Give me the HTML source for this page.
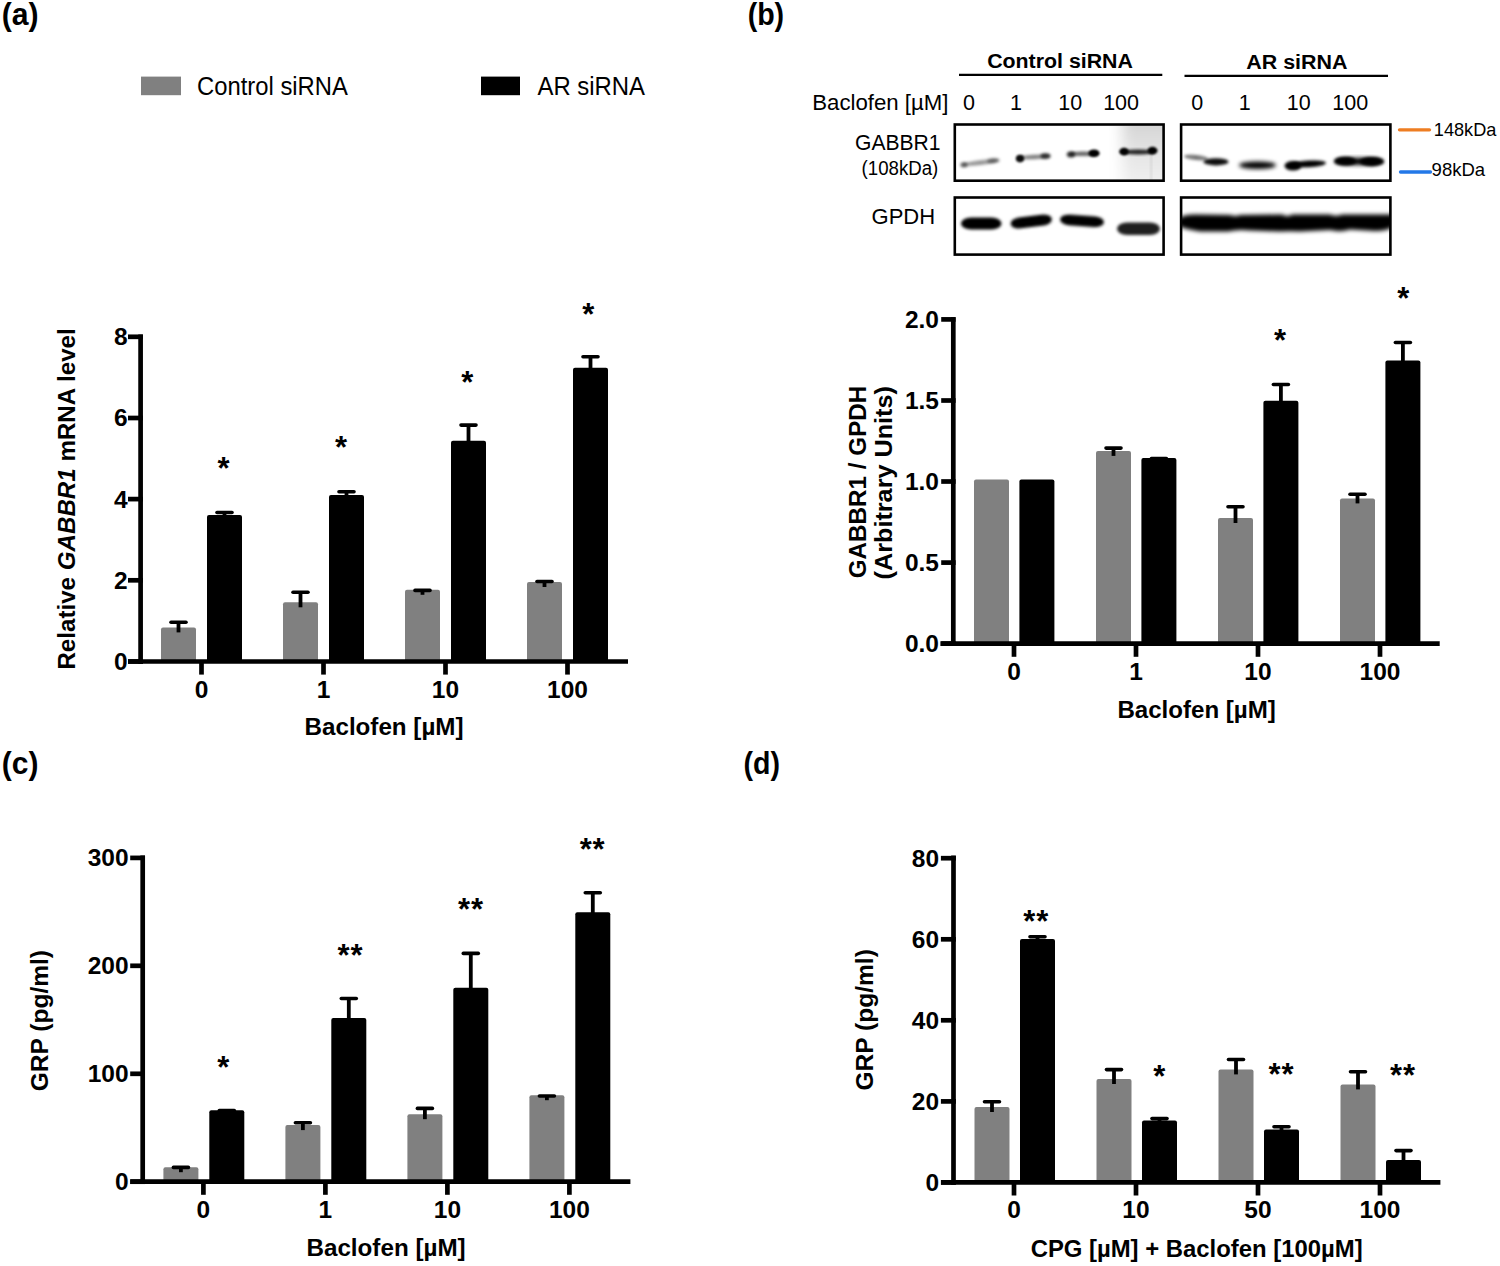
<!DOCTYPE html>
<html><head><meta charset="utf-8"><title>Figure</title>
<style>
html,body{margin:0;padding:0;background:#fff;}
body{width:1500px;height:1266px;overflow:hidden;}
svg{display:block;font-family:"Liberation Sans", sans-serif;}
text{fill:#000;}
</style></head>
<body>
<svg width="1500" height="1266" viewBox="0 0 1500 1266">
<defs>
<filter id="b12" x="-50%" y="-50%" width="200%" height="200%"><feGaussianBlur stdDeviation="1.2"/></filter>
<filter id="b15" x="-50%" y="-50%" width="200%" height="200%"><feGaussianBlur stdDeviation="1.5"/></filter>
<filter id="b16" x="-50%" y="-50%" width="200%" height="200%"><feGaussianBlur stdDeviation="1.6"/></filter>
<filter id="b20" x="-50%" y="-50%" width="200%" height="200%"><feGaussianBlur stdDeviation="2.0"/></filter>
<filter id="b24" x="-50%" y="-50%" width="200%" height="200%"><feGaussianBlur stdDeviation="2.4"/></filter>
<filter id="b26" x="-50%" y="-50%" width="200%" height="200%"><feGaussianBlur stdDeviation="2.6"/></filter>
<filter id="b8" x="-50%" y="-50%" width="200%" height="200%"><feGaussianBlur stdDeviation="0.8"/></filter>
<filter id="b13" x="-50%" y="-50%" width="200%" height="200%"><feGaussianBlur stdDeviation="1.3"/></filter>
<filter id="b14" x="-50%" y="-50%" width="200%" height="200%"><feGaussianBlur stdDeviation="1.4"/></filter>
<filter id="b17" x="-50%" y="-50%" width="200%" height="200%"><feGaussianBlur stdDeviation="1.7"/></filter>
<filter id="b18" x="-50%" y="-50%" width="200%" height="200%"><feGaussianBlur stdDeviation="1.8"/></filter>
<filter id="b19" x="-50%" y="-50%" width="200%" height="200%"><feGaussianBlur stdDeviation="1.9"/></filter>
<filter id="b40" x="-50%" y="-50%" width="200%" height="200%"><feGaussianBlur stdDeviation="4"/></filter>
<linearGradient id="haze" x1="0" y1="0" x2="0" y2="1"><stop offset="0" stop-color="#cfcfcf"/><stop offset="0.55" stop-color="#e6e6e6"/><stop offset="1" stop-color="#f2f2f2"/></linearGradient>
<filter id="b70" x="-50%" y="-50%" width="200%" height="200%"><feGaussianBlur stdDeviation="7"/></filter>
<filter id="b60" x="-50%" y="-50%" width="200%" height="200%"><feGaussianBlur stdDeviation="6"/></filter>
<clipPath id="c1"><rect x="955" y="124.5" width="208.5" height="56"/></clipPath>
<clipPath id="c2"><rect x="955" y="197.5" width="208.5" height="57"/></clipPath>
<clipPath id="c3"><rect x="1181" y="124.5" width="209.5" height="56"/></clipPath>
<clipPath id="c4"><rect x="1181" y="197.5" width="209.5" height="57"/></clipPath>
</defs>
<rect width="1500" height="1266" fill="#fff"/>
<text x="1.77" y="25.27" font-size="31" font-weight="bold" textLength="36.86" lengthAdjust="spacingAndGlyphs">(a)</text>
<text x="747.64" y="25.27" font-size="31" font-weight="bold" textLength="36.50" lengthAdjust="spacingAndGlyphs">(b)</text>
<text x="1.78" y="774.08" font-size="31" font-weight="bold" textLength="36.64" lengthAdjust="spacingAndGlyphs">(c)</text>
<text x="743.44" y="774.08" font-size="31" font-weight="bold" textLength="36.50" lengthAdjust="spacingAndGlyphs">(d)</text>
<rect x="141.0" y="76.6" width="40.0" height="18.6" fill="#808080"/>
<text x="197.11" y="95.00" font-size="25" font-weight="bold" textLength="150.75" lengthAdjust="spacingAndGlyphs"><tspan font-weight="normal">Control siRNA</tspan></text>
<rect x="481.0" y="76.6" width="39.0" height="18.6" fill="#000000"/>
<text x="537.50" y="95.00" font-size="25" font-weight="bold" textLength="107.57" lengthAdjust="spacingAndGlyphs"><tspan font-weight="normal">AR siRNA</tspan></text>
<rect x="161.0" y="627.4" width="35.0" height="34.1" fill="#808080" rx="2"/>
<rect x="207.0" y="515.0" width="35.0" height="146.5" fill="#000000" rx="2"/>
<rect x="283.0" y="602.3" width="35.0" height="59.2" fill="#808080" rx="2"/>
<rect x="329.0" y="495.0" width="35.0" height="166.5" fill="#000000" rx="2"/>
<rect x="405.0" y="589.8" width="35.0" height="71.7" fill="#808080" rx="2"/>
<rect x="451.0" y="440.7" width="35.0" height="220.8" fill="#000000" rx="2"/>
<rect x="527.0" y="582.0" width="35.0" height="79.5" fill="#808080" rx="2"/>
<rect x="573.0" y="367.7" width="35.0" height="293.8" fill="#000000" rx="2"/>
<line x1="178.5" y1="622.3" x2="178.5" y2="632.4" stroke="#000" stroke-width="3.8" stroke-linecap="butt"/>
<line x1="171.0" y1="622.3" x2="186.0" y2="622.3" stroke="#000" stroke-width="3.6" stroke-linecap="round"/>
<line x1="224.5" y1="512.5" x2="224.5" y2="520.0" stroke="#000" stroke-width="3.8" stroke-linecap="butt"/>
<line x1="217.0" y1="512.5" x2="232.0" y2="512.5" stroke="#000" stroke-width="3.6" stroke-linecap="round"/>
<line x1="300.5" y1="592.2" x2="300.5" y2="607.3" stroke="#000" stroke-width="3.8" stroke-linecap="butt"/>
<line x1="293.0" y1="592.2" x2="308.0" y2="592.2" stroke="#000" stroke-width="3.6" stroke-linecap="round"/>
<line x1="346.5" y1="491.8" x2="346.5" y2="500.0" stroke="#000" stroke-width="3.8" stroke-linecap="butt"/>
<line x1="339.0" y1="491.8" x2="354.0" y2="491.8" stroke="#000" stroke-width="3.6" stroke-linecap="round"/>
<line x1="422.5" y1="590.4" x2="422.5" y2="594.8" stroke="#000" stroke-width="3.8" stroke-linecap="butt"/>
<line x1="415.0" y1="590.4" x2="430.0" y2="590.4" stroke="#000" stroke-width="3.6" stroke-linecap="round"/>
<line x1="468.5" y1="425.1" x2="468.5" y2="445.7" stroke="#000" stroke-width="3.8" stroke-linecap="butt"/>
<line x1="461.0" y1="425.1" x2="476.0" y2="425.1" stroke="#000" stroke-width="3.6" stroke-linecap="round"/>
<line x1="544.5" y1="581.5" x2="544.5" y2="587.0" stroke="#000" stroke-width="3.8" stroke-linecap="butt"/>
<line x1="537.0" y1="581.5" x2="552.0" y2="581.5" stroke="#000" stroke-width="3.6" stroke-linecap="round"/>
<line x1="590.5" y1="356.8" x2="590.5" y2="372.7" stroke="#000" stroke-width="3.8" stroke-linecap="butt"/>
<line x1="583.0" y1="356.8" x2="598.0" y2="356.8" stroke="#000" stroke-width="3.6" stroke-linecap="round"/>
<line x1="140.6" y1="334.5" x2="140.6" y2="663.9" stroke="#000" stroke-width="4.7" stroke-linecap="butt"/>
<line x1="128.0" y1="661.5" x2="142.9" y2="661.5" stroke="#000" stroke-width="4.7" stroke-linecap="butt"/>
<line x1="128.0" y1="580.3" x2="142.9" y2="580.3" stroke="#000" stroke-width="4.7" stroke-linecap="butt"/>
<line x1="128.0" y1="499.1" x2="142.9" y2="499.1" stroke="#000" stroke-width="4.7" stroke-linecap="butt"/>
<line x1="128.0" y1="418.0" x2="142.9" y2="418.0" stroke="#000" stroke-width="4.7" stroke-linecap="butt"/>
<line x1="128.0" y1="336.8" x2="142.9" y2="336.8" stroke="#000" stroke-width="4.7" stroke-linecap="butt"/>
<text x="127.6" y="670.0" font-size="24.5" font-weight="bold" text-anchor="end">0</text>
<text x="127.6" y="588.8" font-size="24.5" font-weight="bold" text-anchor="end">2</text>
<text x="127.6" y="507.6" font-size="24.5" font-weight="bold" text-anchor="end">4</text>
<text x="127.6" y="426.4" font-size="24.5" font-weight="bold" text-anchor="end">6</text>
<text x="127.6" y="345.2" font-size="24.5" font-weight="bold" text-anchor="end">8</text>
<line x1="128.0" y1="661.5" x2="628.0" y2="661.5" stroke="#000" stroke-width="4.7" stroke-linecap="butt"/>
<line x1="201.5" y1="661.5" x2="201.5" y2="674.6" stroke="#000" stroke-width="4.7" stroke-linecap="butt"/>
<text x="201.5" y="697.6" font-size="24.5" font-weight="bold" text-anchor="middle">0</text>
<line x1="323.5" y1="661.5" x2="323.5" y2="674.6" stroke="#000" stroke-width="4.7" stroke-linecap="butt"/>
<text x="323.5" y="697.6" font-size="24.5" font-weight="bold" text-anchor="middle">1</text>
<line x1="445.5" y1="661.5" x2="445.5" y2="674.6" stroke="#000" stroke-width="4.7" stroke-linecap="butt"/>
<text x="445.5" y="697.6" font-size="24.5" font-weight="bold" text-anchor="middle">10</text>
<line x1="567.5" y1="661.5" x2="567.5" y2="674.6" stroke="#000" stroke-width="4.7" stroke-linecap="butt"/>
<text x="567.5" y="697.6" font-size="24.5" font-weight="bold" text-anchor="middle">100</text>
<text x="223.6" y="478.8" font-size="31" font-weight="bold" text-anchor="middle">*</text>
<text x="341.0" y="458.0" font-size="31" font-weight="bold" text-anchor="middle">*</text>
<text x="467.3" y="393.0" font-size="31" font-weight="bold" text-anchor="middle">*</text>
<text x="588.3" y="325.3" font-size="31" font-weight="bold" text-anchor="middle">*</text>
<text x="304.53" y="734.60" font-size="24" font-weight="bold" textLength="159.03" lengthAdjust="spacingAndGlyphs">Baclofen [µM]</text>
<text transform="translate(74.76,669.57) rotate(-90)" font-size="24.5" font-weight="bold" textLength="341.29" lengthAdjust="spacingAndGlyphs">Relative <tspan font-style="italic">GABBR1</tspan> mRNA level</text>
<rect x="974.0" y="479.6" width="35.0" height="164.0" fill="#808080" rx="2"/>
<rect x="1019.4" y="479.6" width="35.0" height="164.0" fill="#000000" rx="2"/>
<rect x="1096.0" y="450.9" width="35.0" height="192.7" fill="#808080" rx="2"/>
<rect x="1141.4" y="458.0" width="35.0" height="185.6" fill="#000000" rx="2"/>
<rect x="1218.0" y="518.0" width="35.0" height="125.6" fill="#808080" rx="2"/>
<rect x="1263.4" y="400.7" width="35.0" height="242.9" fill="#000000" rx="2"/>
<rect x="1340.0" y="498.4" width="35.0" height="145.2" fill="#808080" rx="2"/>
<rect x="1385.4" y="360.4" width="35.0" height="283.2" fill="#000000" rx="2"/>
<line x1="1113.5" y1="448.1" x2="1113.5" y2="455.9" stroke="#000" stroke-width="3.8" stroke-linecap="butt"/>
<line x1="1106.0" y1="448.1" x2="1121.0" y2="448.1" stroke="#000" stroke-width="3.6" stroke-linecap="round"/>
<line x1="1158.9" y1="458.6" x2="1158.9" y2="463.0" stroke="#000" stroke-width="3.8" stroke-linecap="butt"/>
<line x1="1151.4" y1="458.6" x2="1166.4" y2="458.6" stroke="#000" stroke-width="3.6" stroke-linecap="round"/>
<line x1="1235.5" y1="506.7" x2="1235.5" y2="523.0" stroke="#000" stroke-width="3.8" stroke-linecap="butt"/>
<line x1="1228.0" y1="506.7" x2="1243.0" y2="506.7" stroke="#000" stroke-width="3.6" stroke-linecap="round"/>
<line x1="1280.9" y1="384.5" x2="1280.9" y2="405.7" stroke="#000" stroke-width="3.8" stroke-linecap="butt"/>
<line x1="1273.4" y1="384.5" x2="1288.4" y2="384.5" stroke="#000" stroke-width="3.6" stroke-linecap="round"/>
<line x1="1357.5" y1="494.2" x2="1357.5" y2="503.4" stroke="#000" stroke-width="3.8" stroke-linecap="butt"/>
<line x1="1350.0" y1="494.2" x2="1365.0" y2="494.2" stroke="#000" stroke-width="3.6" stroke-linecap="round"/>
<line x1="1402.9" y1="342.5" x2="1402.9" y2="365.4" stroke="#000" stroke-width="3.8" stroke-linecap="butt"/>
<line x1="1395.4" y1="342.5" x2="1410.4" y2="342.5" stroke="#000" stroke-width="3.6" stroke-linecap="round"/>
<line x1="953.3" y1="317.3" x2="953.3" y2="646.0" stroke="#000" stroke-width="4.7" stroke-linecap="butt"/>
<line x1="941.2" y1="643.6" x2="955.6" y2="643.6" stroke="#000" stroke-width="4.7" stroke-linecap="butt"/>
<line x1="941.2" y1="562.6" x2="955.6" y2="562.6" stroke="#000" stroke-width="4.7" stroke-linecap="butt"/>
<line x1="941.2" y1="481.5" x2="955.6" y2="481.5" stroke="#000" stroke-width="4.7" stroke-linecap="butt"/>
<line x1="941.2" y1="400.5" x2="955.6" y2="400.5" stroke="#000" stroke-width="4.7" stroke-linecap="butt"/>
<line x1="941.2" y1="319.4" x2="955.6" y2="319.4" stroke="#000" stroke-width="4.7" stroke-linecap="butt"/>
<text x="939.0" y="652.1" font-size="24.5" font-weight="bold" text-anchor="end">0.0</text>
<text x="939.0" y="571.0" font-size="24.5" font-weight="bold" text-anchor="end">0.5</text>
<text x="939.0" y="490.0" font-size="24.5" font-weight="bold" text-anchor="end">1.0</text>
<text x="939.0" y="408.9" font-size="24.5" font-weight="bold" text-anchor="end">1.5</text>
<text x="939.0" y="327.9" font-size="24.5" font-weight="bold" text-anchor="end">2.0</text>
<line x1="940.4" y1="643.6" x2="1439.7" y2="643.6" stroke="#000" stroke-width="4.7" stroke-linecap="butt"/>
<line x1="1014.0" y1="643.6" x2="1014.0" y2="656.8" stroke="#000" stroke-width="4.7" stroke-linecap="butt"/>
<text x="1014.0" y="679.6" font-size="24.5" font-weight="bold" text-anchor="middle">0</text>
<line x1="1136.0" y1="643.6" x2="1136.0" y2="656.8" stroke="#000" stroke-width="4.7" stroke-linecap="butt"/>
<text x="1136.0" y="679.6" font-size="24.5" font-weight="bold" text-anchor="middle">1</text>
<line x1="1258.0" y1="643.6" x2="1258.0" y2="656.8" stroke="#000" stroke-width="4.7" stroke-linecap="butt"/>
<text x="1258.0" y="679.6" font-size="24.5" font-weight="bold" text-anchor="middle">10</text>
<line x1="1380.0" y1="643.6" x2="1380.0" y2="656.8" stroke="#000" stroke-width="4.7" stroke-linecap="butt"/>
<text x="1380.0" y="679.6" font-size="24.5" font-weight="bold" text-anchor="middle">100</text>
<text x="1280.0" y="350.5" font-size="31" font-weight="bold" text-anchor="middle">*</text>
<text x="1403.3" y="308.5" font-size="31" font-weight="bold" text-anchor="middle">*</text>
<text x="1117.43" y="718.10" font-size="24" font-weight="bold" textLength="158.42" lengthAdjust="spacingAndGlyphs">Baclofen [µM]</text>
<text transform="translate(866.46,578.27) rotate(-90)" font-size="24.5" font-weight="bold" textLength="192.62" lengthAdjust="spacingAndGlyphs">GABBR1 / GPDH</text>
<text transform="translate(892.26,579.40) rotate(-90)" font-size="24.5" font-weight="bold" textLength="193.30" lengthAdjust="spacingAndGlyphs">(Arbitrary Units)</text>
<text x="987.15" y="68.00" font-size="20" font-weight="bold" textLength="145.80" lengthAdjust="spacingAndGlyphs">Control siRNA</text>
<line x1="959.0" y1="74.9" x2="1162.3" y2="74.9" stroke="#000" stroke-width="2.3" stroke-linecap="butt"/>
<text x="1246.26" y="69.00" font-size="20" font-weight="bold" textLength="101.28" lengthAdjust="spacingAndGlyphs">AR siRNA</text>
<line x1="1184.5" y1="75.9" x2="1388.0" y2="75.9" stroke="#000" stroke-width="2.3" stroke-linecap="butt"/>
<text x="812.22" y="109.70" font-size="22" font-weight="bold" textLength="136.32" lengthAdjust="spacingAndGlyphs"><tspan font-weight="normal">Baclofen [µM]</tspan></text>
<text x="969.1" y="109.5" font-size="21.5" font-weight="normal" text-anchor="middle">0</text>
<text x="1016.0" y="109.5" font-size="21.5" font-weight="normal" text-anchor="middle">1</text>
<text x="1070.3" y="109.5" font-size="21.5" font-weight="normal" text-anchor="middle">10</text>
<text x="1121.1" y="109.5" font-size="21.5" font-weight="normal" text-anchor="middle">100</text>
<text x="1197.2" y="109.5" font-size="21.5" font-weight="normal" text-anchor="middle">0</text>
<text x="1244.8" y="109.5" font-size="21.5" font-weight="normal" text-anchor="middle">1</text>
<text x="1298.8" y="109.5" font-size="21.5" font-weight="normal" text-anchor="middle">10</text>
<text x="1350.2" y="109.5" font-size="21.5" font-weight="normal" text-anchor="middle">100</text>
<text x="855.05" y="150.10" font-size="22" font-weight="bold" textLength="85.50" lengthAdjust="spacingAndGlyphs"><tspan font-weight="normal">GABBR1</tspan></text>
<text x="861.58" y="175.00" font-size="20" font-weight="bold" textLength="76.75" lengthAdjust="spacingAndGlyphs"><tspan font-weight="normal">(108kDa)</tspan></text>
<text x="871.60" y="223.80" font-size="22" font-weight="bold" textLength="63.54" lengthAdjust="spacingAndGlyphs"><tspan font-weight="normal">GPDH</tspan></text>
<line x1="1399.5" y1="129.8" x2="1429.5" y2="129.8" stroke="#EE7D22" stroke-width="3.3" stroke-linecap="round"/>
<text x="1433.84" y="136.40" font-size="19" font-weight="bold" textLength="62.55" lengthAdjust="spacingAndGlyphs"><tspan font-weight="normal">148kDa</tspan></text>
<line x1="1400.5" y1="172.0" x2="1430.5" y2="172.0" stroke="#2378E8" stroke-width="3.3" stroke-linecap="round"/>
<text x="1431.57" y="176.40" font-size="19" font-weight="bold" textLength="53.60" lengthAdjust="spacingAndGlyphs"><tspan font-weight="normal">98kDa</tspan></text>
<g clip-path="url(#c1)">
<rect x="1122" y="112" width="60" height="80" fill="url(#haze)" filter="url(#b70)"/>
<rect x="1150.5" y="152" width="1.6" height="30" fill="#000" fill-opacity="0.10" filter="url(#b8)"/>
<ellipse cx="980.5" cy="162.6" rx="19.5" ry="2.4" fill="#000" fill-opacity="0.42" filter="url(#b18)" transform="rotate(-7 980.5 162.6)"/>
<ellipse cx="964.0" cy="164.8" rx="3.6" ry="2.6" fill="#000" fill-opacity="0.55" filter="url(#b14)"/>
<ellipse cx="993.0" cy="160.6" rx="6.0" ry="2.4" fill="#000" fill-opacity="0.45" filter="url(#b16)" transform="rotate(-5 993.0 160.6)"/>
<ellipse cx="1034.0" cy="157.0" rx="16.0" ry="2.2" fill="#000" fill-opacity="0.5" filter="url(#b18)" transform="rotate(-3 1034.0 157.0)"/>
<ellipse cx="1020.0" cy="158.6" rx="4.2" ry="3.8" fill="#000" fill-opacity="0.95" filter="url(#b13)"/>
<ellipse cx="1045.5" cy="156.0" rx="5.0" ry="2.8" fill="#000" fill-opacity="0.75" filter="url(#b15)"/>
<ellipse cx="1083.0" cy="153.8" rx="14.0" ry="2.3" fill="#000" fill-opacity="0.6" filter="url(#b18)"/>
<ellipse cx="1071.0" cy="154.4" rx="4.2" ry="3.0" fill="#000" fill-opacity="0.8" filter="url(#b14)"/>
<ellipse cx="1094.0" cy="153.2" rx="5.6" ry="3.8" fill="#000" fill-opacity="1.0" filter="url(#b13)"/>
<ellipse cx="1138.0" cy="152.0" rx="17.0" ry="2.4" fill="#000" fill-opacity="0.85" filter="url(#b16)"/>
<ellipse cx="1124.0" cy="151.6" rx="4.8" ry="3.8" fill="#000" fill-opacity="1.0" filter="url(#b13)"/>
<ellipse cx="1152.5" cy="150.6" rx="5.0" ry="3.8" fill="#000" fill-opacity="1.0" filter="url(#b13)"/>
</g>
<g clip-path="url(#c2)">
<rect x="961.0" y="217.6" width="40.5" height="12.0" rx="10.2" ry="6.0" fill="#000" fill-opacity="1.0" filter="url(#b16)"/>
<rect x="1010.5" y="216.0" width="41.5" height="11.0" rx="9.3" ry="5.5" fill="#000" fill-opacity="1.0" filter="url(#b16)" transform="rotate(-7 1031.2 221.5)"/>
<rect x="1060.0" y="215.4" width="44.0" height="10.8" rx="9.2" ry="5.4" fill="#000" fill-opacity="1.0" filter="url(#b16)" transform="rotate(4 1082.0 220.8)"/>
<rect x="1117.0" y="222.5" width="43.0" height="12.5" rx="10.2" ry="6.2" fill="#000" fill-opacity="0.88" filter="url(#b18)"/>
</g>
<g clip-path="url(#c3)">
<ellipse cx="1196.0" cy="157.5" rx="12.0" ry="2.5" fill="#000" fill-opacity="0.55" filter="url(#b18)" transform="rotate(6 1196.0 157.5)"/>
<ellipse cx="1216.0" cy="161.8" rx="12.5" ry="3.6" fill="#000" fill-opacity="0.95" filter="url(#b17)"/>
<ellipse cx="1257.5" cy="165.2" rx="18.5" ry="3.8" fill="#000" fill-opacity="1.0" filter="url(#b19)"/>
<ellipse cx="1309.0" cy="163.8" rx="17.0" ry="3.4" fill="#000" fill-opacity="1.0" filter="url(#b18)" transform="rotate(-3 1309.0 163.8)"/>
<ellipse cx="1293.0" cy="165.8" rx="8.5" ry="4.8" fill="#000" fill-opacity="1.0" filter="url(#b16)"/>
<ellipse cx="1345.0" cy="161.2" rx="11.0" ry="4.4" fill="#000" fill-opacity="1.0" filter="url(#b18)"/>
<ellipse cx="1372.0" cy="161.6" rx="12.0" ry="4.6" fill="#000" fill-opacity="1.0" filter="url(#b18)"/>
<ellipse cx="1359.0" cy="161.4" rx="24.0" ry="3.6" fill="#000" fill-opacity="1.0" filter="url(#b19)"/>
</g>
<g clip-path="url(#c4)">
<path d="M1178,219 Q1182,214.5 1195,214.5 L1230,215 Q1236,217 1240,215 L1282,214.5 Q1288,217.5 1292,214.5 L1330,214.5 Q1336,217 1342,214.5 L1395,214.5 L1395,226 Q1388,231 1375,231 L1350,229.5 Q1340,232.5 1330,230 L1300,231.5 Q1290,231 1280,231.5 L1250,230.5 Q1238,229 1228,231.5 L1200,231.5 Q1185,229 1178,226 Z" fill="#000" fill-opacity="1.0" filter="url(#b20)"/>
</g>
<rect x="954.8" y="124.5" width="208.8" height="56.2" fill="none" stroke="#000" stroke-width="2.6"/>
<rect x="954.8" y="197.5" width="208.8" height="57.1" fill="none" stroke="#000" stroke-width="2.6"/>
<rect x="1181.1" y="124.5" width="209.3" height="56.2" fill="none" stroke="#000" stroke-width="2.6"/>
<rect x="1181.1" y="197.5" width="209.3" height="57.1" fill="none" stroke="#000" stroke-width="2.6"/>
<rect x="163.4" y="1167.2" width="35.0" height="14.5" fill="#808080" rx="2"/>
<rect x="209.3" y="1110.3" width="35.0" height="71.4" fill="#000000" rx="2"/>
<rect x="285.4" y="1125.1" width="35.0" height="56.6" fill="#808080" rx="2"/>
<rect x="331.3" y="1018.0" width="35.0" height="163.7" fill="#000000" rx="2"/>
<rect x="407.4" y="1114.2" width="35.0" height="67.5" fill="#808080" rx="2"/>
<rect x="453.3" y="987.8" width="35.0" height="193.9" fill="#000000" rx="2"/>
<rect x="529.4" y="1095.2" width="35.0" height="86.5" fill="#808080" rx="2"/>
<rect x="575.3" y="912.3" width="35.0" height="269.4" fill="#000000" rx="2"/>
<line x1="180.9" y1="1167.4" x2="180.9" y2="1172.2" stroke="#000" stroke-width="3.8" stroke-linecap="butt"/>
<line x1="173.4" y1="1167.4" x2="188.4" y2="1167.4" stroke="#000" stroke-width="3.6" stroke-linecap="round"/>
<line x1="226.8" y1="1110.5" x2="226.8" y2="1115.3" stroke="#000" stroke-width="3.8" stroke-linecap="butt"/>
<line x1="219.3" y1="1110.5" x2="234.3" y2="1110.5" stroke="#000" stroke-width="3.6" stroke-linecap="round"/>
<line x1="302.9" y1="1122.8" x2="302.9" y2="1130.1" stroke="#000" stroke-width="3.8" stroke-linecap="butt"/>
<line x1="295.4" y1="1122.8" x2="310.4" y2="1122.8" stroke="#000" stroke-width="3.6" stroke-linecap="round"/>
<line x1="348.8" y1="998.5" x2="348.8" y2="1023.0" stroke="#000" stroke-width="3.8" stroke-linecap="butt"/>
<line x1="341.3" y1="998.5" x2="356.3" y2="998.5" stroke="#000" stroke-width="3.6" stroke-linecap="round"/>
<line x1="424.9" y1="1108.4" x2="424.9" y2="1119.2" stroke="#000" stroke-width="3.8" stroke-linecap="butt"/>
<line x1="417.4" y1="1108.4" x2="432.4" y2="1108.4" stroke="#000" stroke-width="3.6" stroke-linecap="round"/>
<line x1="470.8" y1="953.4" x2="470.8" y2="992.8" stroke="#000" stroke-width="3.8" stroke-linecap="butt"/>
<line x1="463.3" y1="953.4" x2="478.3" y2="953.4" stroke="#000" stroke-width="3.6" stroke-linecap="round"/>
<line x1="546.9" y1="1096.0" x2="546.9" y2="1100.2" stroke="#000" stroke-width="3.8" stroke-linecap="butt"/>
<line x1="539.4" y1="1096.0" x2="554.4" y2="1096.0" stroke="#000" stroke-width="3.6" stroke-linecap="round"/>
<line x1="592.8" y1="892.8" x2="592.8" y2="917.3" stroke="#000" stroke-width="3.8" stroke-linecap="butt"/>
<line x1="585.3" y1="892.8" x2="600.3" y2="892.8" stroke="#000" stroke-width="3.6" stroke-linecap="round"/>
<line x1="142.7" y1="855.5" x2="142.7" y2="1184.0" stroke="#000" stroke-width="4.7" stroke-linecap="butt"/>
<line x1="130.2" y1="1181.7" x2="145.0" y2="1181.7" stroke="#000" stroke-width="4.7" stroke-linecap="butt"/>
<line x1="130.2" y1="1073.8" x2="145.0" y2="1073.8" stroke="#000" stroke-width="4.7" stroke-linecap="butt"/>
<line x1="130.2" y1="965.8" x2="145.0" y2="965.8" stroke="#000" stroke-width="4.7" stroke-linecap="butt"/>
<line x1="130.2" y1="857.9" x2="145.0" y2="857.9" stroke="#000" stroke-width="4.7" stroke-linecap="butt"/>
<text x="128.6" y="1190.2" font-size="24.5" font-weight="bold" text-anchor="end">0</text>
<text x="128.6" y="1082.2" font-size="24.5" font-weight="bold" text-anchor="end">100</text>
<text x="128.6" y="974.3" font-size="24.5" font-weight="bold" text-anchor="end">200</text>
<text x="128.6" y="866.3" font-size="24.5" font-weight="bold" text-anchor="end">300</text>
<line x1="130.3" y1="1181.7" x2="630.4" y2="1181.7" stroke="#000" stroke-width="4.7" stroke-linecap="butt"/>
<line x1="203.4" y1="1181.7" x2="203.4" y2="1194.8" stroke="#000" stroke-width="4.7" stroke-linecap="butt"/>
<text x="203.4" y="1217.6" font-size="24.5" font-weight="bold" text-anchor="middle">0</text>
<line x1="325.4" y1="1181.7" x2="325.4" y2="1194.8" stroke="#000" stroke-width="4.7" stroke-linecap="butt"/>
<text x="325.4" y="1217.6" font-size="24.5" font-weight="bold" text-anchor="middle">1</text>
<line x1="447.4" y1="1181.7" x2="447.4" y2="1194.8" stroke="#000" stroke-width="4.7" stroke-linecap="butt"/>
<text x="447.4" y="1217.6" font-size="24.5" font-weight="bold" text-anchor="middle">10</text>
<line x1="569.4" y1="1181.7" x2="569.4" y2="1194.8" stroke="#000" stroke-width="4.7" stroke-linecap="butt"/>
<text x="569.4" y="1217.6" font-size="24.5" font-weight="bold" text-anchor="middle">100</text>
<text x="223.4" y="1078.3" font-size="31" font-weight="bold" text-anchor="middle">*</text>
<text x="350.4" y="966.3" font-size="31" font-weight="bold" text-anchor="middle" letter-spacing="0.8">**</text>
<text x="470.9" y="920.2" font-size="31" font-weight="bold" text-anchor="middle" letter-spacing="0.8">**</text>
<text x="592.6" y="860.2" font-size="31" font-weight="bold" text-anchor="middle" letter-spacing="0.8">**</text>
<text x="306.43" y="1255.80" font-size="24" font-weight="bold" textLength="159.24" lengthAdjust="spacingAndGlyphs">Baclofen [µM]</text>
<text transform="translate(48.46,1091.28) rotate(-90)" font-size="24.5" font-weight="bold" textLength="141.33" lengthAdjust="spacingAndGlyphs">GRP (pg/ml)</text>
<rect x="974.5" y="1107.0" width="35.0" height="75.4" fill="#808080" rx="2"/>
<rect x="1020.0" y="938.9" width="35.0" height="243.5" fill="#000000" rx="2"/>
<rect x="1096.5" y="1079.0" width="35.0" height="103.4" fill="#808080" rx="2"/>
<rect x="1142.0" y="1120.6" width="35.0" height="61.8" fill="#000000" rx="2"/>
<rect x="1218.5" y="1069.4" width="35.0" height="113.0" fill="#808080" rx="2"/>
<rect x="1264.0" y="1129.6" width="35.0" height="52.8" fill="#000000" rx="2"/>
<rect x="1340.5" y="1084.4" width="35.0" height="98.0" fill="#808080" rx="2"/>
<rect x="1386.0" y="1159.9" width="35.0" height="22.5" fill="#000000" rx="2"/>
<line x1="992.0" y1="1101.8" x2="992.0" y2="1112.0" stroke="#000" stroke-width="3.8" stroke-linecap="butt"/>
<line x1="984.5" y1="1101.8" x2="999.5" y2="1101.8" stroke="#000" stroke-width="3.6" stroke-linecap="round"/>
<line x1="1037.5" y1="936.7" x2="1037.5" y2="943.9" stroke="#000" stroke-width="3.8" stroke-linecap="butt"/>
<line x1="1030.0" y1="936.7" x2="1045.0" y2="936.7" stroke="#000" stroke-width="3.6" stroke-linecap="round"/>
<line x1="1114.0" y1="1069.6" x2="1114.0" y2="1084.0" stroke="#000" stroke-width="3.8" stroke-linecap="butt"/>
<line x1="1106.5" y1="1069.6" x2="1121.5" y2="1069.6" stroke="#000" stroke-width="3.6" stroke-linecap="round"/>
<line x1="1159.5" y1="1118.6" x2="1159.5" y2="1125.6" stroke="#000" stroke-width="3.8" stroke-linecap="butt"/>
<line x1="1152.0" y1="1118.6" x2="1167.0" y2="1118.6" stroke="#000" stroke-width="3.6" stroke-linecap="round"/>
<line x1="1236.0" y1="1059.5" x2="1236.0" y2="1074.4" stroke="#000" stroke-width="3.8" stroke-linecap="butt"/>
<line x1="1228.5" y1="1059.5" x2="1243.5" y2="1059.5" stroke="#000" stroke-width="3.6" stroke-linecap="round"/>
<line x1="1281.5" y1="1126.7" x2="1281.5" y2="1134.6" stroke="#000" stroke-width="3.8" stroke-linecap="butt"/>
<line x1="1274.0" y1="1126.7" x2="1289.0" y2="1126.7" stroke="#000" stroke-width="3.6" stroke-linecap="round"/>
<line x1="1358.0" y1="1071.7" x2="1358.0" y2="1089.4" stroke="#000" stroke-width="3.8" stroke-linecap="butt"/>
<line x1="1350.5" y1="1071.7" x2="1365.5" y2="1071.7" stroke="#000" stroke-width="3.6" stroke-linecap="round"/>
<line x1="1403.5" y1="1150.6" x2="1403.5" y2="1164.9" stroke="#000" stroke-width="3.8" stroke-linecap="butt"/>
<line x1="1396.0" y1="1150.6" x2="1411.0" y2="1150.6" stroke="#000" stroke-width="3.6" stroke-linecap="round"/>
<line x1="953.5" y1="855.5" x2="953.5" y2="1184.8" stroke="#000" stroke-width="4.7" stroke-linecap="butt"/>
<line x1="940.9" y1="1182.4" x2="955.9" y2="1182.4" stroke="#000" stroke-width="4.7" stroke-linecap="butt"/>
<line x1="940.9" y1="1101.4" x2="955.9" y2="1101.4" stroke="#000" stroke-width="4.7" stroke-linecap="butt"/>
<line x1="940.9" y1="1020.3" x2="955.9" y2="1020.3" stroke="#000" stroke-width="4.7" stroke-linecap="butt"/>
<line x1="940.9" y1="939.3" x2="955.9" y2="939.3" stroke="#000" stroke-width="4.7" stroke-linecap="butt"/>
<line x1="940.9" y1="858.2" x2="955.9" y2="858.2" stroke="#000" stroke-width="4.7" stroke-linecap="butt"/>
<text x="939.1" y="1190.9" font-size="24.5" font-weight="bold" text-anchor="end">0</text>
<text x="939.1" y="1109.8" font-size="24.5" font-weight="bold" text-anchor="end">20</text>
<text x="939.1" y="1028.8" font-size="24.5" font-weight="bold" text-anchor="end">40</text>
<text x="939.1" y="947.7" font-size="24.5" font-weight="bold" text-anchor="end">60</text>
<text x="939.1" y="866.7" font-size="24.5" font-weight="bold" text-anchor="end">80</text>
<line x1="941.0" y1="1182.4" x2="1440.4" y2="1182.4" stroke="#000" stroke-width="4.7" stroke-linecap="butt"/>
<line x1="1014.0" y1="1182.4" x2="1014.0" y2="1195.5" stroke="#000" stroke-width="4.7" stroke-linecap="butt"/>
<text x="1014.0" y="1217.6" font-size="24.5" font-weight="bold" text-anchor="middle">0</text>
<line x1="1136.0" y1="1182.4" x2="1136.0" y2="1195.5" stroke="#000" stroke-width="4.7" stroke-linecap="butt"/>
<text x="1136.0" y="1217.6" font-size="24.5" font-weight="bold" text-anchor="middle">10</text>
<line x1="1258.0" y1="1182.4" x2="1258.0" y2="1195.5" stroke="#000" stroke-width="4.7" stroke-linecap="butt"/>
<text x="1258.0" y="1217.6" font-size="24.5" font-weight="bold" text-anchor="middle">50</text>
<line x1="1380.0" y1="1182.4" x2="1380.0" y2="1195.5" stroke="#000" stroke-width="4.7" stroke-linecap="butt"/>
<text x="1380.0" y="1217.6" font-size="24.5" font-weight="bold" text-anchor="middle">100</text>
<text x="1036.2" y="931.5" font-size="31" font-weight="bold" text-anchor="middle" letter-spacing="0.8">**</text>
<text x="1159.2" y="1086.8" font-size="31" font-weight="bold" text-anchor="middle">*</text>
<text x="1281.4" y="1084.8" font-size="31" font-weight="bold" text-anchor="middle" letter-spacing="0.8">**</text>
<text x="1402.9" y="1085.8" font-size="31" font-weight="bold" text-anchor="middle" letter-spacing="0.8">**</text>
<text x="1030.65" y="1256.70" font-size="24" font-weight="bold" textLength="331.96" lengthAdjust="spacingAndGlyphs">CPG [µM] + Baclofen [100µM]</text>
<text transform="translate(873.26,1090.58) rotate(-90)" font-size="24.5" font-weight="bold" textLength="141.44" lengthAdjust="spacingAndGlyphs">GRP (pg/ml)</text>
</svg>
</body></html>
